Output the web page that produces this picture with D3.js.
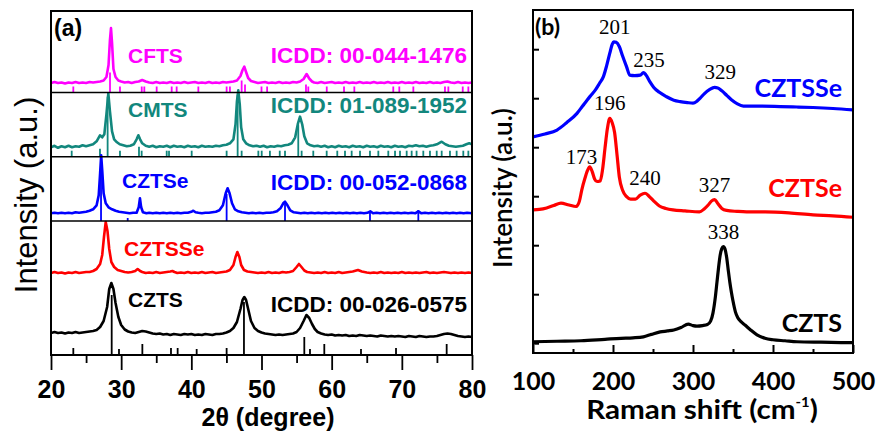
<!DOCTYPE html>
<html>
<head>
<meta charset="utf-8">
<script src="https://cdn.jsdelivr.net/npm/d3@7"></script>
<style>
  body { margin: 0; background: #fff; }
  svg { display: block; }
  .xrd text { font-family: 'Liberation Sans', Arial, sans-serif; font-weight: bold; }
  .raman text { font-family: Lato, 'Open Sans', sans-serif; font-weight: bold; }
  .raman text.peak { font-family: 'Liberation Serif', 'Times New Roman', serif; font-weight: normal; }
</style>
</head>
<body>
<svg id="chart" width="877" height="431"></svg>
<script>
// ---- (a) XRD patterns: [2theta, intensity] ----
const xrdCFTS = [[20,2],[20.5,3],[21,2],[21.5,2.5],[22,1.5],[22.5,2.5],[23,2],[23.5,3],[24,2],[24.5,2.5],[25,2],[25.5,3],[26,2.5],[26.5,3],[27,3.5],[27.5,4.5],[27.9,8],[28.2,20],[28.4,45],[28.55,57],[28.7,42],[28.9,16],[29.2,8],[29.6,4.5],[30,3.5],[30.5,2.5],[31,3],[31.5,2],[32,3],[32.5,3.5],[33,5],[33.5,3.5],[34,2.5],[34.5,2],[35,3],[35.5,2],[36,2.5],[36.5,2],[37,3],[37.5,2],[38,2.5],[38.5,2],[39,3],[39.5,2],[40,2.5],[40.5,3],[41,2],[41.5,2.5],[42,2],[42.5,3],[43,2],[43.5,2.5],[44,2],[44.5,3],[45,2.5],[45.5,3],[46,3.5],[46.5,4.5],[47,9],[47.3,15],[47.55,18.3],[47.8,13],[48.1,7],[48.5,4],[49,3],[49.5,2],[50,2.5],[50.5,3],[51,2],[51.5,2.5],[52,2],[52.5,3],[53,2],[53.5,2.5],[54,2],[54.5,3],[55,2.5],[55.5,3.5],[56,6],[56.43,11],[56.8,6.5],[57.2,3.5],[57.5,2.5],[58,2],[58.5,3],[59,2],[59.5,2.5],[60,3],[60.5,2],[61,2.5],[61.5,2],[62,3],[62.5,2],[63,2.5],[63.5,2],[64,3],[64.5,2],[65,2.5],[65.5,2],[66,3],[66.5,2],[67,2.5],[67.5,2],[68,3],[68.5,2],[69,2.5],[69.5,2],[70,3],[70.5,2],[71,2.5],[71.5,2],[72,3],[72.5,2],[73,2.5],[73.5,2],[74,3],[74.5,2],[75,2.5],[75.5,2],[76,3],[76.5,3.5],[77,2.5],[77.5,2],[78,3],[78.5,2],[79,2.5],[79.5,2],[80,2.5]];
const xrdCMTS = [[20,2],[20.5,3.5],[21,1.5],[21.5,3],[22,2],[22.5,3.5],[23,2],[23.5,3],[24,2.5],[24.5,4],[25,3],[25.5,4],[26,5],[26.5,8],[26.98,14],[27.3,12],[27.6,15],[27.9,35],[28.17,56],[28.4,38],[28.7,18],[29,10],[29.4,7],[29.8,5],[30.3,4],[30.8,3],[31.3,3.5],[31.8,5],[32.2,10],[32.45,14],[32.7,10],[33,6],[33.5,3.5],[34,2.5],[34.5,3.5],[35,2],[35.5,3],[36,2.5],[36.5,3.5],[37,2],[37.5,3.5],[38,2.5],[38.5,3],[39,2],[39.5,3.5],[40,2.5],[40.5,3],[41,2],[41.5,3.5],[42,2.5],[42.5,3],[43,2.5],[43.5,3.5],[44,3],[44.5,4],[45,4.5],[45.5,6],[46,10],[46.3,25],[46.5,48],[46.69,59],[46.9,45],[47.1,22],[47.4,10],[47.8,6],[48.3,4],[48.8,3],[49.3,3.5],[49.8,2.5],[50.3,3.5],[50.8,2],[51.3,3],[51.8,2.5],[52.3,3.5],[52.8,3],[53.3,4],[53.8,4.5],[54.3,6],[54.8,12],[55.2,26],[55.49,32.6],[55.8,25],[56.1,13],[56.5,6],[57,4],[57.5,3],[58,3.5],[58.5,2.5],[59,3.5],[59.5,2],[60,3],[60.5,2],[61,3.5],[61.5,2.5],[62,3],[62.5,2],[63,3.5],[63.5,2.5],[64,3],[64.5,2],[65,3.5],[65.5,2.5],[66,3],[66.5,2],[67,3.5],[67.5,2.5],[68,3],[68.5,2],[69,3.5],[69.5,2.5],[70,3],[70.5,2],[71,3.5],[71.5,3],[72,4],[72.5,3],[73,3.5],[73.5,2.5],[74,3.5],[74.5,4],[75,5],[75.68,7.6],[76.2,5],[76.7,3.5],[77.2,3],[77.7,2.5],[78.2,3],[78.7,3.5],[79.2,5],[79.6,6],[80,5]];
const xrdCZTSe = [[20,2],[20.5,2.5],[21,2],[21.5,2.5],[22,2],[22.5,2.5],[23,2],[23.5,3],[24,2.5],[24.5,3],[25,3.5],[25.5,4.5],[26,6],[26.5,10],[26.8,20],[27,42],[27.15,60],[27.3,45],[27.5,22],[27.8,12],[28.2,8],[28.7,6],[29.2,4.5],[29.7,3.5],[30.2,3],[30.7,2.5],[31.2,2],[31.7,2.5],[32.2,2.5],[32.5,8],[32.68,17],[32.85,8],[33.1,3],[33.6,2],[34,2.5],[34.5,2],[35,2.5],[35.5,2],[36,2.5],[36.5,2],[37,2.5],[37.5,2],[38,2.5],[38.5,2],[39,2.5],[39.5,2.5],[40,3.5],[40.28,4.6],[40.6,3],[41,2.5],[41.5,2],[42,2.5],[42.5,2.5],[43,3],[43.5,3.5],[44,5],[44.5,10],[44.9,22],[45.17,27],[45.45,22],[45.8,12],[46.2,6],[46.7,4],[47.2,3],[47.7,2.5],[48.2,2],[48.7,2.5],[49.2,2],[49.7,2.5],[50.2,2],[50.7,2.5],[51.2,2.5],[51.7,3],[52.2,4],[52.7,7],[53.1,12],[53.35,13.6],[53.7,10],[54.1,5],[54.6,3],[55.1,2.5],[55.6,2],[56.1,2.5],[56.6,2],[57.1,2.5],[57.6,2],[58.1,2.5],[58.6,2],[59.1,2.5],[59.6,2],[60.1,2.5],[60.6,2],[61.1,2.5],[61.6,2],[62.1,2.5],[62.6,2],[63.1,2.5],[63.6,2],[64.1,2.5],[64.6,2],[65.1,2.5],[65.5,4],[65.9,2],[66.4,2.5],[66.9,2],[67.4,2.5],[67.9,2],[68.4,2.5],[68.9,2],[69.4,2.5],[69.9,2],[70.4,2.5],[70.9,2],[71.4,2.5],[71.9,2],[72.35,4],[72.8,2],[73.3,2.5],[73.8,2],[74.3,2.5],[74.8,2],[75.3,2.5],[75.8,2],[76.3,2.5],[76.8,2],[77.3,2.5],[77.8,2],[78.3,2.5],[78.8,2],[79.3,2.5],[80,2]];
const xrdCZTSSe = [[20,2],[20.5,3],[21,2],[21.5,2.5],[22,1.5],[22.5,2.5],[23,2],[23.5,3],[24,2],[24.5,2.5],[25,3],[25.5,3],[26,4],[26.5,6],[27,11],[27.3,20],[27.55,38],[27.8,53],[28.05,44],[28.3,26],[28.6,13],[29,8],[29.5,5],[30,4],[30.5,3],[31,2.5],[31.5,3],[32,4],[32.35,6],[32.7,4],[33,3],[33.5,2],[34,2.5],[34.5,2],[35,3],[35.5,2],[36,2.5],[36.5,3],[37,3.5],[37.3,4],[37.6,3],[38,2],[38.5,2.5],[39,2],[39.5,3],[40,2],[40.5,2.5],[41,2],[41.5,3],[42,2],[42.5,2.5],[43,3],[43.5,2],[44,2.5],[44.5,3],[45,3.5],[45.5,5],[46,10],[46.3,18],[46.56,23],[46.85,18],[47.1,10],[47.5,5],[48,3.5],[48.5,3],[49,2.5],[49.5,2],[50,2.5],[50.5,2],[51,3],[51.5,2],[52,2.5],[52.5,2],[53,3],[53.5,2.5],[54,3],[54.5,4],[55,8],[55.34,11],[55.7,8],[56.1,4.5],[56.5,3],[57,2.5],[57.5,2],[58,2.5],[58.5,2],[59,3],[59.5,2],[60,2.5],[60.5,2],[61,3],[61.5,2],[62,2.5],[62.5,3],[63,3.5],[63.75,5],[64.3,3.5],[65,2.5],[65.5,2],[66,2.5],[66.5,2],[67,3],[67.5,2],[68,2.5],[68.5,2],[69,2.5],[69.5,2],[70,3],[70.5,2],[71,2.5],[71.5,2],[72,2.5],[72.5,2],[73,2.5],[73.5,3],[74,2],[74.5,2.5],[75,2],[75.5,2.5],[76,3],[76.5,2.5],[77,2],[77.5,2.5],[78,2],[78.5,2.5],[79,2],[79.5,2.5],[80,2]];
const xrdCZTS = [[20,4],[20.5,5],[21,4],[21.5,4.5],[22,3.5],[22.5,4.5],[23,4],[23.5,5],[24,4],[24.5,4.5],[25,5],[25.5,5.5],[26,6],[26.5,7],[27,10],[27.5,16],[28,30],[28.3,48],[28.6,54],[28.9,48],[29.2,34],[29.6,20],[30,12],[30.5,7.5],[31,5.5],[31.5,4.5],[32,4],[32.5,5],[33,6],[33.5,5.5],[34,4.5],[34.5,3.5],[35,3],[35.5,3.5],[36,2.5],[36.5,3],[37,2],[37.5,3],[38,2.5],[38.5,2],[39,3],[39.5,2.5],[40,3],[40.5,2],[41,2.5],[41.5,2],[42,3],[42.5,2.5],[43,2],[43.5,3],[44,3],[44.5,3.5],[45,4.5],[45.5,6],[46,9],[46.5,15],[47,28],[47.3,37],[47.55,40],[47.8,37],[48.1,28],[48.5,16],[49,9],[49.5,6],[50,4.5],[50.5,3.5],[51,3],[51.5,2.5],[52,2],[52.5,2.5],[53,2],[53.5,2.5],[54,3],[54.5,3.5],[55,5],[55.5,9],[56,16],[56.4,22],[56.8,19],[57.2,13],[57.6,8],[58,5],[58.5,3.5],[59,2.5],[59.5,2],[60,2.5],[60.5,1.5],[61,2],[61.5,1.5],[62,2],[62.5,1],[63,1.5],[63.5,1],[64,2],[64.5,1.5],[65,1],[65.5,1.5],[66,1],[66.5,0.5],[67,1.5],[67.5,1],[68,0.5],[68.5,1],[69,0.5],[69.5,1],[70,0.5],[70.5,0],[71,1],[71.5,0.5],[72,0],[72.5,1],[73,0.5],[73.5,0],[74,0.5],[74.5,0.5],[75,1],[75.5,2],[76,3],[76.5,3.5],[77,3],[77.5,2],[78,1],[78.5,0.5],[79,0],[79.5,0.5],[80,0]];

// ICDD reference lines: [2theta, relative height]
const refCFTS = [[23.18,6],[28.41,20],[29.83,6],[32.93,6],[33.3,6],[35.06,6],[37.2,6],[37.91,6],[41.0,6],[45.03,6],[45.5,6],[47.17,12],[47.65,8],[50.0,6],[50.8,6],[56.34,8],[56.67,6],[59.3,6],[61.76,6],[63.23,6],[68.78,6],[69.64,6],[71.64,6],[76.15,6],[76.63,6],[78.68,6],[79.48,6]];
const refCMTS = [[22.95,6],[26.98,8],[28.07,60],[29.83,6],[32.54,10],[32.92,6],[36.49,6],[36.82,6],[40.05,6],[45.03,6],[46.6,62],[47.17,6],[49.55,6],[50.03,6],[51.2,6],[52.6,6],[53.35,6],[55.24,32],[55.72,6],[57.38,6],[59.29,6],[60.8,6],[61.9,6],[62.85,6],[64.04,6],[65.46,6],[66.65,6],[68.07,6],[69.03,6],[69.74,6],[70.69,6],[71.4,6],[72.1,6],[73.06,6],[74.01,6],[74.97,6],[75.68,6],[76.86,6],[77.81,6],[78.76,6],[79.48,6]];
const refCZTSe = [[27.13,66],[30.93,3],[45.03,27],[53.35,19],[65.46,8],[72.35,11]];
const refCZTS = [[23.18,7],[28.65,60],[29.69,6],[33.02,11],[37.1,7],[38.05,7],[40.76,6],[45.03,7],[47.5,53],[56.1,18],[56.91,6],[58.95,11],[64.18,6],[69.17,7],[76.39,11]];

const xrdNames = ['CFTS', 'CMTS', 'CZTSe', 'CZTSSe', 'CZTS'];
const xrdCards = ['ICDD: 00-044-1476', 'ICDD: 01-089-1952', 'ICDD: 00-052-0868', null, 'ICDD: 00-026-0575'];
const xrdOffsets = [270, 205.7, 139.7, 80, 18];
const refBases = [262.5, 198.3, 134, null, 0];
const xrdTicks = [20, 30, 40, 50, 60, 70, 80];

// ---- (b) Raman spectra: [shift cm-1, intensity (offset)] ----
const ramanCZTSSe = [[100,4.21],[115,4.27],[130,4.35],[142,4.5],[155,4.69],[162,4.84],[168,4.97],[173,5.07],[178,5.17],[183,5.3],[188,5.44],[192,5.66],[196,5.92],[199,6.1],[201,6.15],[204,6.14],[208,6.05],[212,5.86],[217,5.64],[221,5.47],[227,5.46],[234,5.47],[238,5.52],[241,5.48],[246,5.34],[251,5.22],[258,5.12],[267,5.03],[276,4.96],[284,4.93],[293,4.91],[300,4.9],[305,4.94],[309,5.0],[314,5.09],[321,5.18],[327,5.22],[331,5.21],[336,5.15],[342,5.06],[348,4.97],[355,4.89],[363,4.84],[380,4.84],[409,4.83],[430,4.82],[450,4.81],[475,4.79],[500,4.76]];
const ramanCZTSe = [[100,2.72],[108,2.73],[117,2.76],[126,2.81],[135,2.86],[145,2.82],[154,2.79],[158,2.9],[161,3.13],[165,3.37],[168,3.52],[171,3.6],[174,3.5],[177,3.35],[180,3.3],[184,3.31],[187,3.55],[190,3.98],[193,4.38],[196,4.59],[199,4.5],[202,4.3],[205,3.85],[208,3.38],[212,3.12],[217,2.99],[222,2.94],[228,2.94],[234,3.02],[240,3.06],[245,3.0],[251,2.9],[258,2.8],[266,2.75],[275,2.72],[290,2.7],[308,2.68],[314,2.74],[319,2.82],[323,2.9],[327,2.93],[331,2.85],[336,2.75],[342,2.71],[355,2.69],[367,2.68],[390,2.68],[420,2.66],[450,2.62],[475,2.6],[500,2.57]];
const ramanCZTS = [[100,0.03],[130,0.04],[160,0.05],[190,0.08],[210,0.1],[225,0.11],[238,0.13],[248,0.18],[259,0.23],[268,0.25],[276,0.27],[285,0.32],[294,0.39],[300,0.36],[305,0.35],[312,0.36],[318,0.38],[322,0.45],[325,0.62],[328,0.95],[330,1.25],[332,1.55],[334,1.8],[336,1.93],[338,1.97],[340,1.92],[342,1.76],[344,1.5],[346,1.25],[348,1.04],[350,0.86],[353,0.64],[356,0.52],[360,0.44],[365,0.37],[372,0.27],[380,0.17],[390,0.1],[400,0.07],[415,0.05],[430,0.03],[460,0.02],[500,0.01]];

const ramanNames = ['CZTSSe', 'CZTSe', 'CZTS'];
// peak labels per spectrum: [shift, label]
const ramanPeaks = [
  [[201, '201'], [235, '235'], [329, '329']],
  [[173, '173'], [196, '196'], [240, '240'], [327, '327']],
  [[338, '338']]
];
const ramanTicks = [100, 200, 300, 400, 500];

const xrdColors = ['#ff00ff', '#12877d', '#0000ff', '#ff0000', '#000000'];
const ramanColors = ['#0000ff', '#ff0000', '#000000'];

const svg = d3.select('#chart');

// ================= panel (a) =================
const left = { x0: 51, x1: 472, y0: 11, y1: 355 };
const xrdX = d3.scaleLinear().domain([20, 80]).range([left.x0, left.x1]);
const xrdY = d3.scaleLinear().domain([0, 344]).range([left.y1, left.y0]);

const gA = svg.append('g').attr('class', 'xrd');

gA.append('clipPath').attr('id', 'clipA')
  .append('rect')
  .attr('x', left.x0).attr('y', left.y0)
  .attr('width', left.x1 - left.x0).attr('height', left.y1 - left.y0);

const plotA = gA.append('g').attr('clip-path', 'url(#clipA)');

const xrdSeries = [xrdCFTS, xrdCMTS, xrdCZTSe, xrdCZTSSe, xrdCZTS];
const refSeries = [refCFTS, refCMTS, refCZTSe, null, refCZTS];

// separators between stacked sub-panels
refBases.forEach(b => {
  if (b === null || b === 0) return;
  gA.append('line')
    .attr('x1', left.x0).attr('x2', left.x1)
    .attr('y1', xrdY(b)).attr('y2', xrdY(b))
    .attr('stroke', '#000').attr('stroke-width', 1.6);
});

// reference sticks
refSeries.forEach((refs, i) => {
  if (!refs) return;
  plotA.append('g')
    .selectAll('line')
    .data(refs)
    .join('line')
    .attr('x1', d => xrdX(d[0])).attr('x2', d => xrdX(d[0]))
    .attr('y1', xrdY(refBases[i]))
    .attr('y2', d => xrdY(refBases[i] + d[1]))
    .attr('stroke', xrdColors[i])
    .attr('stroke-width', 1.8);
});

// patterns
xrdSeries.forEach((data, i) => {
  const line = d3.line()
    .x(d => xrdX(d[0]))
    .y(d => xrdY(xrdOffsets[i] + d[1]));
  plotA.append('path')
    .datum(data)
    .attr('d', line)
    .attr('fill', 'none')
    .attr('stroke', xrdColors[i])
    .attr('stroke-width', 2.6)
    .attr('stroke-linejoin', 'round');
});

// axes: outward ticks
const xAxisA = d3.axisBottom(xrdX).tickValues(xrdTicks).tickSize(15).tickPadding(10).tickFormat(d3.format('d'));
const xMinorA = d3.axisBottom(xrdX).tickValues(d3.range(25, 80, 10)).tickSize(8).tickFormat('');

const axA = gA.append('g').attr('transform', `translate(0,${left.y1})`).call(xAxisA);
gA.append('g').attr('transform', `translate(0,${left.y1})`).call(xMinorA);
gA.selectAll('.domain').remove();
gA.selectAll('.tick line').attr('stroke', '#000').attr('stroke-width', 1.8);
axA.selectAll('text').attr('font-size', 25).attr('fill', '#000')
  .style('font-family', "'Liberation Sans', Arial, sans-serif").style('font-weight', 'bold');

gA.append('rect')
  .attr('x', left.x0).attr('y', left.y0)
  .attr('width', left.x1 - left.x0).attr('height', left.y1 - left.y0)
  .attr('fill', 'none').attr('stroke', '#000').attr('stroke-width', 2);

// labels
const nameX = [128, 128, 122, 124, 128];
const nameY = [63, 117, 188, 256, 307];
const cardY = [63, 113, 190, null, 312];
xrdNames.forEach((n, i) => {
  gA.append('text').attr('x', nameX[i]).attr('y', nameY[i])
    .attr('font-size', 21).attr('fill', xrdColors[i]).text(n);
  if (xrdCards[i]) {
    gA.append('text').attr('x', 467).attr('y', cardY[i])
      .attr('text-anchor', 'end').attr('font-size', 22.5)
      .attr('fill', xrdColors[i]).text(xrdCards[i]);
  }
});

gA.append('text').attr('x', 54).attr('y', 36).attr('font-size', 23).text('(a)');

gA.append('text')
  .attr('x', 268).attr('y', 426)
  .attr('text-anchor', 'middle').attr('font-size', 25)
  .text('2θ (degree)');

gA.append('text')
  .attr('transform', 'translate(37,195) rotate(-90)')
  .attr('text-anchor', 'middle')
  .style('font-weight', 'normal')
  .attr('font-size', 31)
  .text('Intensity (a.u.)');

// ================= panel (b) =================
const right = { x0: 533, x1: 853, y0: 10, y1: 353 };
const ramX = d3.scaleLinear().domain([100, 500]).range([right.x0, right.x1]);
const ramY = d3.scaleLinear().domain([-0.2, 6.8]).range([right.y1, right.y0]);

const gB = svg.append('g').attr('class', 'raman');

const ramanSeries = [ramanCZTSSe, ramanCZTSe, ramanCZTS];
const ramLine = d3.line()
  .x(d => ramX(d[0]))
  .y(d => ramY(d[1]))
  .curve(d3.curveMonotoneX);

ramanSeries.forEach((data, i) => {
  gB.append('path')
    .datum(data)
    .attr('d', ramLine)
    .attr('fill', 'none')
    .attr('stroke', ramanColors[i])
    .attr('stroke-width', 3.2)
    .attr('stroke-linejoin', 'round');
});

// inward ticks
const xAxisB = d3.axisBottom(ramX).tickValues(ramanTicks).tickSize(-8).tickPadding(19).tickFormat(d3.format('d'));
const xMinorB = d3.axisBottom(ramX).tickValues(d3.range(150, 500, 100)).tickSize(-4).tickFormat('');
const yAxisB = d3.axisLeft(ramY).tickValues(d3.range(0, 7)).tickSize(-6).tickFormat('');

const axB = gB.append('g').attr('transform', `translate(0,${right.y1})`).call(xAxisB);
gB.append('g').attr('transform', `translate(0,${right.y1})`).call(xMinorB);
gB.append('g').attr('transform', `translate(${right.x0},0)`).call(yAxisB);
gB.selectAll('.domain').remove();
gB.selectAll('.tick line').attr('stroke', '#000').attr('stroke-width', 2);
axB.selectAll('text').attr('font-size', 25).attr('fill', '#000')
  .style('font-family', "Lato, 'Open Sans', sans-serif").style('font-weight', 'bold');

gB.append('rect')
  .attr('x', right.x0).attr('y', right.y0)
  .attr('width', right.x1 - right.x0).attr('height', right.y1 - right.y0)
  .attr('fill', 'none').attr('stroke', '#000').attr('stroke-width', 2);

// peak annotations
const peakNudge = { '173': -10, '235': 8, '329': 4, '201': 1 };
ramanPeaks.forEach((peaks, i) => {
  peaks.forEach(([s, lab]) => {
    const pt = ramanSeries[i].reduce((a, b) => Math.abs(b[0] - s) < Math.abs(a[0] - s) ? b : a);
    gB.append('text')
      .attr('class', 'peak')
      .attr('x', ramX(s) + (peakNudge[lab] || 0))
      .attr('y', ramY(pt[1]) - 8)
      .attr('text-anchor', 'middle')
      .attr('font-size', 21)
      .text(lab);
  });
});

const ramNameY = [97, 197, 332];
ramanNames.forEach((n, i) => {
  gB.append('text').attr('x', 842).attr('y', ramNameY[i])
    .attr('text-anchor', 'end').attr('font-size', 25)
    .attr('fill', ramanColors[i]).text(n);
});

gB.append('text').attr('x', 535).attr('y', 35).attr('font-size', 23).text('(b)');

const xLab = gB.append('text')
  .attr('transform', 'translate(702,419) scale(1.14,1)')
  .attr('text-anchor', 'middle').attr('font-size', 26);
xLab.append('tspan').text('Raman shift (cm');
xLab.append('tspan').attr('font-size', 13).attr('dy', -12).text('-1');
xLab.append('tspan').attr('dy', 12).text(')');

gB.append('text')
  .attr('transform', 'translate(512,188) rotate(-90)')
  .attr('text-anchor', 'middle')
  .attr('font-size', 26)
  .style('font-weight', 600)
  .text('Intensity (a.u.)');
</script>
</body>
</html>
